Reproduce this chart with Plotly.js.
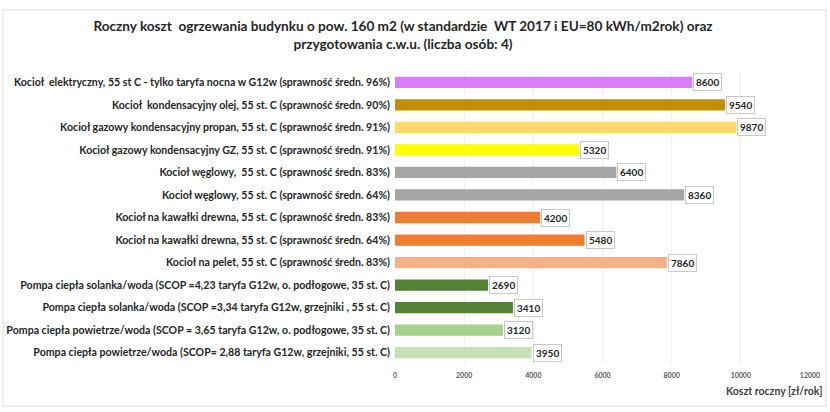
<!DOCTYPE html>
<html>
<head>
<meta charset="utf-8">
<script src="https://cdn.plot.ly/plotly-3.0.1.min.js"></script>
<style>
  html, body { margin: 0; padding: 0; background: #fff; }
  #chart { width: 830px; height: 412px; }
</style>
</head>
<body>
<div id="chart"></div>
<script>
'use strict';

// categories, top to bottom
const categories = [
    'Kocioł  elektryczny, 55 st C - tylko taryfa nocna w G12w (sprawność średn. 96%)',
    'Kocioł  kondensacyjny olej, 55 st. C (sprawność średn. 90%)',
    'Kocioł gazowy kondensacyjny propan, 55 st. C (sprawność średn. 91%)',
    'Kocioł gazowy kondensacyjny GZ, 55 st. C (sprawność średn. 91%)',
    'Kocioł węglowy,  55 st. C (sprawność średn. 83%)',
    'Kocioł węglowy, 55 st. C (sprawność średn. 64%)',
    'Kocioł na kawałki drewna, 55 st. C (sprawność średn. 83%)',
    'Kocioł na kawałki drewna, 55 st. C (sprawność średn. 64%)',
    'Kocioł na pelet, 55 st. C (sprawność średn. 83%)',
    'Pompa ciepła solanka/woda (SCOP =4,23 taryfa G12w, o. podłogowe, 35 st. C)',
    'Pompa ciepła solanka/woda (SCOP =3,34 taryfa G12w, grzejniki , 55 st. C)',
    'Pompa ciepła powietrze/woda (SCOP = 3,65 taryfa G12w, o. podłogowe, 35 st. C)',
    'Pompa ciepła powietrze/woda (SCOP= 2,88 taryfa G12w, grzejniki, 55 st. C)'
];

const costs = [8600, 9540, 9870, 5320, 6400, 8360, 4200, 5480, 7860, 2690, 3410, 3120, 3950];

const barColors = [
    '#d97ff6', '#bf8f00', '#ffd966', '#ffff00', '#a5a5a5', '#a5a5a5', '#ed7d31',
    '#ed7d31', '#f4b183', '#548235', '#548235', '#a9d18e', '#c5e0b4'
];

const xTicks = [0, 2000, 4000, 6000, 8000, 10000, 12000];
const xTickText = ['0', '2000', '4000', '6000', '8000', '10000', '12000'];

const FONT = 'Lato, "Open Sans", sans-serif';

// plot area in pixels
const M = { l: 395, r: 20, t: 71, b: 48 };
const W = 830, H = 412;
const plotW = W - M.l - M.r, plotH = H - M.t - M.b;
const px = x => (x - M.l) / plotW;
const py = y => (H - M.b - y) / plotH;

const bars = {
    type: 'bar',
    orientation: 'h',
    x: costs,
    y: categories,
    width: 0.5,
    marker: { color: barColors, line: { width: 0 } },
    hoverinfo: 'skip'
};

const valueLabels = costs.map((v, i) => ({
    x: v, y: categories[i],
    xref: 'x', yref: 'y',
    text: String(v),
    showarrow: false,
    xanchor: 'left',
    xshift: 1,
    bgcolor: '#fff',
    bordercolor: '#c8c8c8',
    borderwidth: 1,
    borderpad: 2,
    font: { family: FONT, size: 10, color: '#262626', weight: 'bold' }
}));

const layout = {
    width: W, height: H,
    margin: M,
    paper_bgcolor: '#fff',
    plot_bgcolor: '#fff',
    showlegend: false,
    title: {
        text: 'Roczny koszt  ogrzewania budynku o pow. 160 m2 (w standardzie  WT 2017 i EU=80 kWh/m2rok) oraz<br>przygotowania c.w.u. (liczba osób: 4)',
        x: 403 / W, xanchor: 'center',
        y: 1 - 31 / H, yanchor: 'top', yref: 'container',
        font: { family: FONT, size: 13.6, color: '#262626', weight: 'bold' }
    },
    xaxis: {
        range: [0, 12000],
        tickvals: xTicks,
        ticktext: xTickText,
        showgrid: true,
        gridcolor: '#eef0f2',
        zeroline: false,
        showline: false,
        ticks: '',
        ticklabelstandoff: 6,
        tickfont: { family: FONT, size: 7, color: '#595959', weight: 'bold' },
        fixedrange: true
    },
    yaxis: {
        type: 'category',
        autorange: 'reversed',
        showgrid: false,
        zeroline: false,
        showline: false,
        ticks: '',
        ticklabelstandoff: 4,
        tickfont: { family: FONT, size: 10.6, color: '#262626', weight: 'bold' },
        fixedrange: true
    },
    shapes: [{
        type: 'rect', xref: 'paper', yref: 'paper',
        x0: px(3), x1: px(826), y0: py(406), y1: py(10),
        line: { color: '#d6dce4', width: 1 },
        layer: 'below'
    }],
    annotations: valueLabels.concat([{
        xref: 'paper', yref: 'paper',
        x: px(824), y: py(391),
        xanchor: 'right', yanchor: 'middle',
        text: 'Koszt roczny [zł/rok]',
        showarrow: false,
        font: { family: FONT, size: 10.5, color: '#404040', weight: 'bold' }
    }])
};

Plotly.newPlot('chart', [bars], layout, { displayModeBar: false, staticPlot: true });
</script>
</body>
</html>
